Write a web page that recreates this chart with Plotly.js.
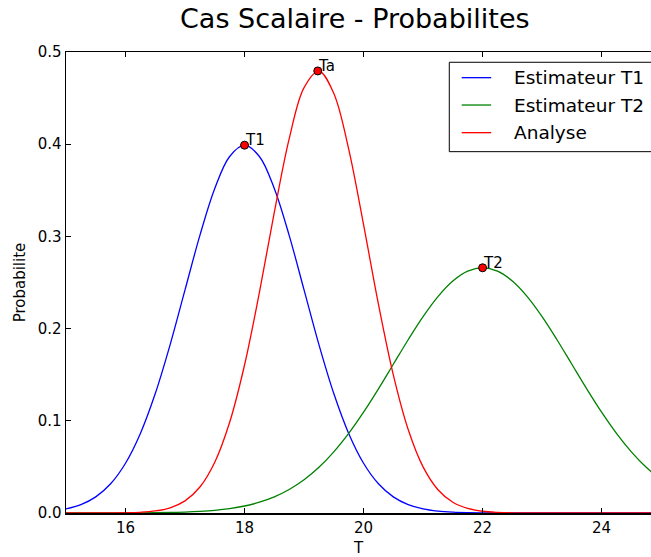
<!DOCTYPE html>
<html>
<head>
<meta charset="utf-8">
<script src="https://cdn.plot.ly/plotly-3.0.1.min.js"></script>
<style>html,body{margin:0;padding:0;background:#fff;}#chart{width:651px;height:557px;}</style>
</head>
<body>
<div id="chart"></div>
<script>
// Temperature grid (step 0.25)
var temps = [15,15.25,15.5,15.75,16,16.25,16.5,16.75,17,17.25,17.5,17.75,18,18.25,18.5,18.75,19,19.25,19.5,19.75,20,20.25,20.5,20.75,21,21.25,21.5,21.75,22,22.25,22.5,22.75,23,23.25,23.5,23.75,24,24.25,24.5,24.75,25];

var probT1 = [0.00443,0.00909,0.01753,0.03174,0.05399,0.08628,0.12952,0.18265,0.24197,0.30114,0.35207,0.38667,0.39894,0.38667,0.35207,0.30114,0.24197,0.18265,0.12952,0.08628,0.05399,0.03174,0.01753,0.00909,0.00443,0.00203,0.00087,0.00035,0.00013,0.00005,0.00002,0.00001,0,0,0,0,0,0,0,0,0];

var probT2 = [0.000005,0.000011,0.000022,0.000045,0.000089,0.000171,0.00032,0.00058,0.00103,0.00177,0.00295,0.0048,0.0076,0.01169,0.01748,0.02544,0.03599,0.04954,0.06632,0.08634,0.10934,0.13467,0.16131,0.18794,0.21297,0.23471,0.25159,0.26229,0.26596,0.26229,0.25159,0.23471,0.21297,0.18794,0.16131,0.13467,0.10934,0.08634,0.06632,0.04954,0.03599];

var probA = [0.0000012,0.0000051,0.0000206,0.000076,0.000255,0.000783,0.0022,0.00563,0.01318,0.02818,0.05508,0.0984,0.16054,0.23934,0.32602,0.40575,0.46138,0.47934,0.45502,0.39465,0.31274,0.22644,0.1498,0.09054,0.05,0.02524,0.01164,0.0049,0.00189,0.00066,0.00021,0.000063,0.000017,0.000004,0.000001,0,0,0,0,0,0];

// Peak points
var peakLabels = ["T1","Ta","T2"];
var peakX = [18, 19.2308, 22];
var peakY = [0.39894, 0.47947, 0.26596];

var seriesNames = ["Estimateur T1","Estimateur T2","Analyse"];
var seriesColors = ["#0000ff","#008000","#ff0000"];
var seriesVals = [probT1, probT2, probA];

var font = "DejaVu Sans, sans-serif";
var traces = seriesVals.map(function(v,i){
  return {x: temps, y: v, type:'scatter', mode:'lines', name: seriesNames[i], showlegend:false,
    line:{color: seriesColors[i], width:1.3, shape:'spline'}, hoverinfo:'skip'};
});
traces.push({x: peakX, y: peakY, type:'scatter', mode:'markers', showlegend:false,
  marker:{color:'#ff0000', size:8, line:{color:'#000', width:1}}, cliponaxis:false});

var annotations = peakLabels.map(function(t,i){
  return {x: peakX[i], y: peakY[i], xref:'x', yref:'y', text:t, showarrow:false,
    xanchor:'left', yanchor:'bottom', xshift:-2, yshift:-6, font:{family:font, size:15, color:'#000'}};
});

// Legend drawn in paper coordinates (matplotlib style box)
var legRowY = [0.9443, 0.8850, 0.8250];
var shapes = [{type:'rect', xref:'paper', yref:'paper', x0:0.6552, x1:1.02, y0:0.7838, y1:0.9777,
  line:{color:'#000', width:1}, fillcolor:'#fff', layer:'above'}];
seriesNames.forEach(function(n,i){
  shapes.push({type:'line', xref:'paper', yref:'paper', x0:0.6764, x1:0.7268, y0:legRowY[i], y1:legRowY[i],
    line:{color:seriesColors[i], width:1.3}, layer:'above'});
  annotations.push({xref:'paper', yref:'paper', x:0.7619, y:legRowY[i], text:n, showarrow:false,
    xanchor:'left', yanchor:'middle', font:{family:font, size:18.5, color:'#000'}});
});

var layout = {
  width:651, height:557,
  margin:{l:66, r:0, t:52, b:44},
  paper_bgcolor:'#fff', plot_bgcolor:'#fff',
  font:{family:font, size:15, color:'#000'},
  title:{text:'Cas Scalaire - Probabilites', font:{family:font, size:27, color:'#000'},
    x:0.545, xanchor:'center', y:0.966, yanchor:'middle', yref:'container'},
  xaxis:{range:[15, 24.83], tickvals:[16,18,20,22,24], ticktext:['16','18','20','22','24'],
    ticks:'inside', ticklen:5, tickcolor:'#000', showline:true, linecolor:'#000', linewidth:1.5,
    mirror:'ticks', showgrid:false, zeroline:false, tickfont:{size:15},
    title:{text:'T', font:{size:15}, standoff:7}},
  yaxis:{range:[0, 0.5], tickvals:[0,0.1,0.2,0.3,0.4,0.5], ticktext:['0.0','0.1','0.2','0.3','0.4','0.5'],
    ticks:'inside', ticklen:5, tickcolor:'#000', showline:true, linecolor:'#000', linewidth:1.5,
    mirror:false, showgrid:false, zeroline:false, tickfont:{size:15},
    title:{text:'Probabilite', font:{size:15}, standoff:8}},
  shapes: shapes,
  annotations: annotations,
  showlegend:false
};

Plotly.newPlot('chart', traces, layout, {displayModeBar:false, staticPlot:true});
</script>
</body>
</html>
